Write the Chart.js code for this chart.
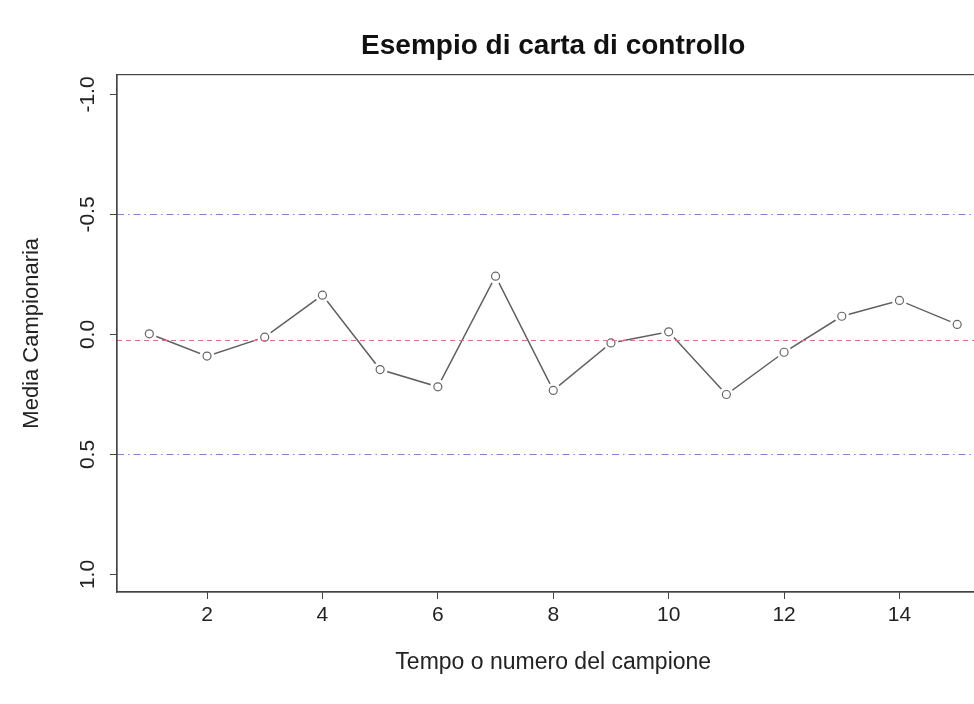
<!DOCTYPE html>
<html>
<head>
<meta charset="utf-8">
<title>Esempio di carta di controllo</title>
<script src="https://cdn.jsdelivr.net/npm/chart.js@4/dist/chart.umd.min.js"></script>
<style>
  html, body { margin: 0; padding: 0; background: #ffffff; overflow: hidden; }
  #wrap { width: 974px; height: 704px; overflow: hidden; }
</style>
</head>
<body>
<div id="wrap"><canvas id="cc" width="997" height="704"></canvas></div>
<script>
// Sample number and sample mean for each subgroup
const sampleIndex = [1, 2, 3, 4, 5, 6, 7, 8, 9, 10, 11, 12, 13, 14, 15];
const sampleMeans = [-0.003, 0.090, 0.011, -0.164, 0.146, 0.218, -0.243, 0.233,
                     0.035, -0.011, 0.250, 0.074, -0.076, -0.142, -0.042];

// Control chart reference values
const centerLine = 0.025;
const upperLimit = 0.5;
const lowerLimit = -0.5;

// Tick values for both axes
const xTicks = [2, 4, 6, 8, 10, 12, 14];
const yTicks = [-1.0, -0.5, 0.0, 0.5, 1.0];

// Axis ranges (4% padding around the 1..15 samples)
const X_MIN = 0.44, X_MAX = 15.56;
const Y_MIN = -1.083, Y_MAX = 1.073;

const FONT = '"Liberation Sans", Arial, Helvetica, sans-serif';
const INK = '#222222';
const AXIS = '#444444';

const points = sampleIndex.map((x, i) => ({ x: x, y: sampleMeans[i] }));
const hLine = v => [{ x: X_MIN, y: v }, { x: X_MAX, y: v }];

// White page background and the closed box around the plot region
const frame = {
  id: 'frame',
  beforeDraw(chart) {
    const c = chart.ctx;
    c.save();
    c.fillStyle = '#ffffff';
    c.fillRect(0, 0, chart.width, chart.height);
    c.restore();
  },
  afterDraw(chart) {
    const a = chart.chartArea;
    const c = chart.ctx;
    c.save();
    c.strokeStyle = AXIS;
    c.lineWidth = 1.2;
    c.strokeRect(a.left, a.top, a.right - a.left, a.bottom - a.top);
    c.restore();
  }
};

new Chart(document.getElementById('cc'), {
  type: 'line',
  data: {
    datasets: [
      {
        label: 'LC',
        data: hLine(centerLine),
        borderColor: '#e0707e',
        borderWidth: 1.2,
        borderDash: [5, 4],
        pointRadius: 0,
        order: 0
      },
      {
        label: 'UCL',
        data: hLine(upperLimit),
        borderColor: '#7f7fd6',
        borderWidth: 1.2,
        borderDash: [7, 4, 1.5, 4],
        pointRadius: 0,
        order: 0
      },
      {
        label: 'LCL',
        data: hLine(lowerLimit),
        borderColor: '#7f7fd6',
        borderWidth: 1.2,
        borderDash: [7, 4, 1.5, 4],
        pointRadius: 0,
        order: 0
      },
      {
        label: 'marker',
        data: points,
        showLine: false,
        pointStyle: 'circle',
        pointRadius: 4,
        pointBorderWidth: 1.2,
        pointBorderColor: '#666666',
        pointBackgroundColor: 'rgba(0,0,0,0)',
        order: 1
      },
      {
        label: 'gap',
        data: points,
        showLine: false,
        pointRadius: 7.5,
        pointBorderWidth: 0,
        pointBackgroundColor: '#ffffff',
        order: 2
      },
      {
        label: 'Media',
        data: points,
        borderColor: '#606060',
        borderWidth: 1.5,
        pointRadius: 0,
        tension: 0,
        order: 3
      }
    ]
  },
  options: {
    responsive: false,
    animation: false,
    events: [],
    layout: { padding: { left: 0, right: 0, top: 0, bottom: 0 } },
    plugins: {
      legend: { display: false },
      tooltip: { enabled: false },
      title: {
        display: true,
        fullSize: false,
        text: 'Esempio di carta di controllo',
        color: '#111111',
        font: { family: FONT, size: 28, weight: 'bold' },
        padding: { top: 29, bottom: 12 }
      }
    },
    scales: {
      x: {
        type: 'linear',
        min: X_MIN,
        max: X_MAX,
        afterBuildTicks: s => { s.ticks = xTicks.map(v => ({ value: v })); },
        afterFit: s => { s.height = 112; },
        grid: { display: true, drawOnChartArea: false, drawTicks: true, tickLength: 7, color: AXIS },
        border: { display: true, color: AXIS, width: 1.2 },
        ticks: {
          color: INK,
          font: { family: FONT, size: 21 },
          padding: 4,
          maxRotation: 0,
          minRotation: 0,
          callback: v => String(v)
        },
        title: {
          display: true,
          text: 'Tempo o numero del campione',
          color: INK,
          font: { family: FONT, size: 23 },
          padding: { top: 0, bottom: 28 }
        }
      },
      y: {
        type: 'linear',
        reverse: true,
        min: Y_MIN,
        max: Y_MAX,
        afterBuildTicks: s => { s.ticks = yTicks.map(v => ({ value: v })); },
        afterFit: s => { s.width = 117; },
        grid: { display: true, drawOnChartArea: false, drawTicks: true, tickLength: 7, color: AXIS },
        border: { display: true, color: AXIS, width: 1.2 },
        ticks: {
          color: INK,
          font: { family: FONT, size: 21 },
          minRotation: 90,
          maxRotation: 90,
          crossAlign: 'center',
          padding: 4,
          callback: v => Number(v).toFixed(1)
        },
        title: {
          display: true,
          text: 'Media Campionaria',
          color: INK,
          font: { family: FONT, size: 22 },
          padding: { top: 19, bottom: 0 }
        }
      }
    }
  },
  plugins: [frame]
});
</script>
</body>
</html>
